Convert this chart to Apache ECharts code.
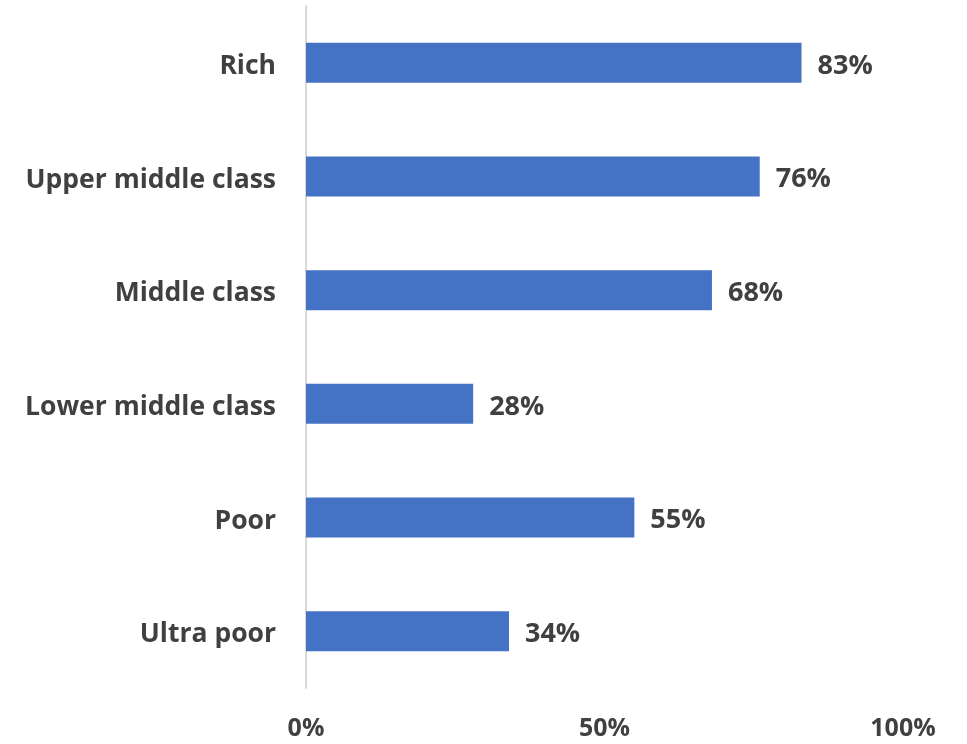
<!DOCTYPE html>
<html>
<head>
<meta charset="utf-8">
<script src="https://cdn.jsdelivr.net/npm/echarts@6/dist/echarts.min.js"></script>
<style>
  html, body { margin: 0; padding: 0; background: #ffffff; }
  #chart { width: 967px; height: 744px; }
</style>
</head>
<body>
<div id="chart"></div>
<script>
// Share (%) for each income group, listed top to bottom
const categories = ['Rich', 'Upper middle class', 'Middle class', 'Lower middle class', 'Poor', 'Ultra poor'];
const values = [83, 76, 68, 28, 55, 34];
const xTicks = [0, 50, 100];

const textColor = '#404040';
const fontFamily = '"Open Sans", "Liberation Sans", sans-serif';

const chart = echarts.init(document.getElementById('chart'), null, { renderer: 'canvas' });

chart.setOption({
  animation: false,
  backgroundColor: '#ffffff',
  grid: { left: 306, right: 64, top: 6, bottom: 56, containLabel: false },
  xAxis: {
    type: 'value',
    min: xTicks[0],
    max: xTicks[xTicks.length - 1],
    interval: xTicks[1] - xTicks[0],
    axisLine: { show: false },
    axisTick: { show: false },
    splitLine: { show: false },
    axisLabel: {
      formatter: '{value}%',
      color: textColor,
      fontFamily: fontFamily,
      fontWeight: 'bold',
      fontSize: 25,
      margin: 28
    }
  },
  yAxis: {
    type: 'category',
    inverse: true,
    data: categories,
    axisLine: { show: true, lineStyle: { color: '#d9d9d9', width: 2 } },
    axisTick: { show: false },
    axisLabel: {
      color: textColor,
      fontFamily: fontFamily,
      fontWeight: 'bold',
      fontSize: 26.5,
      margin: 30,
      formatter: function (v) { return '{c|' + v + '}'; },
      rich: {
        c: {
          color: textColor,
          fontFamily: fontFamily,
          fontWeight: 'bold',
          fontSize: 26.5,
          padding: [7, 0, 0, 0]
        }
      }
    }
  },
  series: [{
    type: 'bar',
    data: values,
    barWidth: 40,
    itemStyle: { color: '#4472C4' },
    label: {
      show: true,
      position: 'right',
      distance: 16,
      offset: [0, 3],
      formatter: '{c}%',
      color: textColor,
      fontFamily: fontFamily,
      fontWeight: 'bold',
      fontSize: 27
    }
  }]
});
</script>
</body>
</html>
